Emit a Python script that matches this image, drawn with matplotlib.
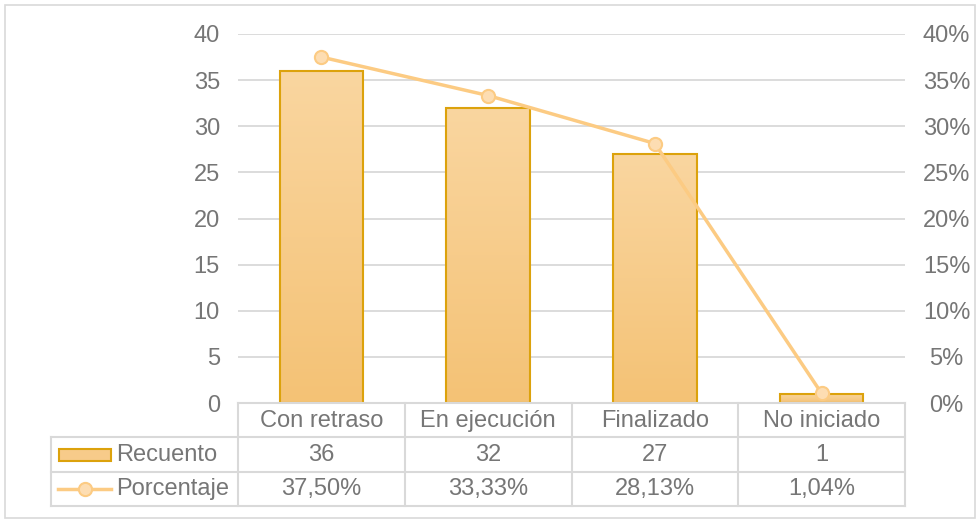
import numpy as np
import matplotlib.pyplot as plt
from matplotlib.patches import Rectangle
from matplotlib.lines import Line2D
from matplotlib.colors import LinearSegmentedColormap

plt.rcParams['font.family'] = ['Liberation Sans', 'DejaVu Sans']

# datos
categorias = ['Con retraso', 'En ejecución', 'Finalizado', 'No iniciado']
recuento = [36, 32, 27, 1]
porcentaje = [37.50, 33.33, 28.13, 1.04]
etiquetas_pct = ['37,50%', '33,33%', '28,13%', '1,04%']

txt = '#767676'
grid = '#D9D9D9'
borde_barra = '#DCA20C'
linea = '#FCCB83'
fs = 17

W, H = 980, 522
fig = plt.figure(figsize=(9.8, 5.22), dpi=100)

def fx(px):
    return px / W

def fy(py):
    return 1 - py / H

x0, x1, ytop, ybot = 238, 905, 34, 403
ax = fig.add_axes([fx(x0), fy(ybot), fx(x1 - x0), fy(ytop) - fy(ybot)])
x = np.arange(len(categorias))
ax.set_yticks(range(0, 41, 5))
ax.yaxis.grid(True, color=grid, lw=1.3)
ax.set_axisbelow(True)
for s in ax.spines.values():
    s.set_visible(False)
ax.tick_params(axis='y', length=0, labelsize=fs, labelcolor=txt, pad=13)
ax.set_xticks([])

# barras con degradado
barras = ax.bar(x, recuento, width=0.5, color='none', edgecolor=borde_barra, lw=1.5, zorder=3)
grad = np.linspace(0, 1, 256).reshape(-1, 1)
cmap = LinearSegmentedColormap.from_list('g', ['#F4C275', '#FAD6A0'])
for b in barras:
    im = ax.imshow(grad, cmap=cmap, aspect='auto', origin='lower',
                   extent=[b.get_x(), b.get_x() + b.get_width(), 0, b.get_height()],
                   zorder=2)
    im.set_clip_path(b)
ax.set_xlim(-0.5, len(categorias) - 0.5)
ax.set_ylim(0, 40)

# línea de porcentaje
ax2 = ax.twinx()
ax2.set_ylim(0, 40)
ax2.set_yticks(range(0, 41, 5))
ax2.set_yticklabels([f'{v}%' for v in range(0, 41, 5)])
for s in ax2.spines.values():
    s.set_visible(False)
ax2.tick_params(axis='y', length=0, labelsize=fs, labelcolor=txt, pad=30)
for t in ax2.get_yticklabels():
    t.set_horizontalalignment('center')
ax2.plot(x, porcentaje, color=linea, lw=2.5, marker='o', ms=9.5,
         mfc='#FDDDB2', mec=linea, mew=1.5, zorder=4)

# tabla de datos
filas = [403, 437, 472, 506]
col_x = [51, 238] + [238 + (x1 - x0) * (i + 1) / 4 for i in range(4)]
lk = dict(color=grid, lw=1.5, transform=fig.transFigure)
fig.add_artist(Line2D([fx(238), fx(x1)], [fy(403)] * 2, **lk))
for yy in filas[1:]:
    fig.add_artist(Line2D([fx(51), fx(x1)], [fy(yy)] * 2, **lk))
fig.add_artist(Line2D([fx(51)] * 2, [fy(437), fy(506)], **lk))
for cx in col_x[1:]:
    fig.add_artist(Line2D([fx(cx)] * 2, [fy(403), fy(506)], **lk))

for i in range(4):
    cx = (col_x[i + 1] + col_x[i + 2]) / 2
    fig.text(fx(cx), fy(421), categorias[i], ha='center', va='center', fontsize=fs, color=txt)
    fig.text(fx(cx), fy(455), str(recuento[i]), ha='center', va='center', fontsize=fs, color=txt)
    fig.text(fx(cx), fy(489), etiquetas_pct[i], ha='center', va='center', fontsize=fs, color=txt)

# claves de leyenda
fig.add_artist(Rectangle((fx(59), fy(461)), fx(52), fy(449) - fy(461),
                         transform=fig.transFigure, facecolor='#F7CB8A',
                         edgecolor=borde_barra, lw=1.5))
fig.text(fx(116), fy(455), 'Recuento', ha='left', va='center', fontsize=fs, color=txt)
fig.add_artist(Line2D([fx(58), fx(111)], [fy(489)] * 2, color=linea, lw=2.5,
                      transform=fig.transFigure))
fig.add_artist(Line2D([fx(84.5)], [fy(489)], color=linea, marker='o', ms=9.5,
                      transform=fig.transFigure, mfc='#FDDDB2', mec=linea, mew=1.5))
fig.text(fx(116), fy(489), 'Porcentaje', ha='left', va='center', fontsize=fs, color=txt)

# borde exterior
fig.add_artist(Rectangle((fx(5), fy(518)), fx(970), fy(5) - fy(518),
                         transform=fig.transFigure, fill=False, edgecolor=grid, lw=1.2))

fig.savefig('out.png', dpi=100)
